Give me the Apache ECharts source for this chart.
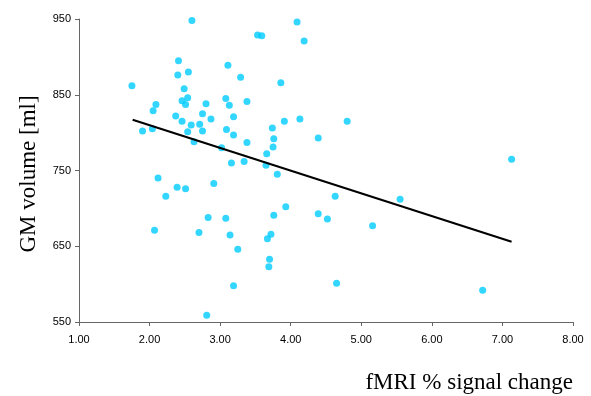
<!DOCTYPE html>
<html>
<head>
<meta charset="utf-8">
<script src="https://cdn.jsdelivr.net/npm/echarts@6/dist/echarts.min.js"></script>
<style>
  html, body { margin: 0; padding: 0; background: #fff; }
  #chart { width: 591px; height: 396px; }
</style>
</head>
<body>
<div id="chart"></div>
<script>
// fMRI % signal change for each subject
const signalChange = [
  1.75, 2.60, 3.53, 3.59, 2.41, 2.40, 2.55, 2.49, 3.11, 3.29,
  2.46, 2.54, 2.51, 2.80, 3.08, 3.13, 3.38, 2.09, 2.05, 2.37,
  2.46, 2.75, 2.87, 3.19, 1.90, 2.04, 2.59, 2.71, 2.54, 2.75,
  3.09, 3.19, 2.63, 3.38, 3.02, 3.16, 3.34, 4.09, 4.19, 3.86,
  3.91, 4.13, 4.80, 3.74, 3.76, 4.39, 3.75, 3.66, 3.65, 2.12,
  2.23, 2.39, 2.51, 2.91, 2.83, 3.08, 2.07, 2.70, 3.14, 3.25,
  3.19, 2.81, 3.81, 3.93, 3.76, 3.72, 3.67, 3.70, 3.69, 4.39,
  4.52, 4.63, 5.16, 4.65, 5.55, 7.13, 6.72
];
// GM volume [ml] for each subject
const gmVolume = [
  862, 948, 929, 928, 895, 876, 880, 858, 889, 873,
  842, 846, 837, 838, 845, 836, 841, 837, 829, 822,
  815, 825, 818, 821, 802, 805, 810, 811, 801, 802,
  804, 797, 788, 787, 780, 760, 762, 946, 921, 866,
  815, 818, 815, 806, 792, 793, 781, 772, 757, 740,
  716, 728, 726, 733, 688, 687, 671, 668, 665, 646,
  598, 559, 745, 702, 691, 666, 660, 633, 623, 693,
  686, 716, 677, 601, 712, 765, 592
];
// linear trend line end points
const trendX = [1.76, 7.13];
const trendY = [817, 656];

const xTicks = { min: 1, max: 8, step: 1 };
const yTicks = { min: 550, max: 950, step: 100 };

const chart = echarts.init(document.getElementById('chart'));

const tickFont = { color: '#000', fontFamily: 'Liberation Sans, Arial, sans-serif', fontSize: 11 };
const axisGrey = '#666666';

chart.setOption({
  animation: false,
  grid: { left: 79, right: 18, top: 19, bottom: 74 },
  xAxis: {
    type: 'value',
    min: xTicks.min,
    max: xTicks.max,
    interval: xTicks.step,
    axisLine: { show: true, lineStyle: { color: axisGrey, width: 1 } },
    axisTick: { show: true, length: 4, lineStyle: { color: axisGrey } },
    splitLine: { show: false },
    axisLabel: { ...tickFont, margin: 12, formatter: v => v.toFixed(2) }
  },
  yAxis: {
    type: 'value',
    min: yTicks.min,
    max: yTicks.max,
    interval: yTicks.step,
    axisLine: { show: true, lineStyle: { color: axisGrey, width: 1 } },
    axisTick: { show: true, length: 4, lineStyle: { color: axisGrey } },
    splitLine: { show: false },
    axisLabel: { ...tickFont, margin: 8 }
  },
  graphic: [
    {
      type: 'text',
      x: 29, y: 174,
      rotation: Math.PI / 2,
      style: {
        text: 'GM volume [ml]',
        font: '23px "Liberation Serif", "Times New Roman", serif',
        fill: '#000',
        align: 'center',
        verticalAlign: 'middle'
      }
    },
    {
      type: 'text',
      x: 573, y: 383,
      style: {
        text: 'fMRI % signal change',
        font: '23px "Liberation Serif", "Times New Roman", serif',
        fill: '#000',
        align: 'right',
        verticalAlign: 'middle'
      }
    }
  ],
  series: [
    {
      type: 'scatter',
      symbol: 'circle',
      symbolSize: 7,
      itemStyle: { color: '#00ccff' },
      data: signalChange.map((x, i) => [x, gmVolume[i]]),
      z: 2
    },
    {
      type: 'line',
      showSymbol: false,
      lineStyle: { color: '#000', width: 2 },
      data: trendX.map((x, i) => [x, trendY[i]]),
      z: 3
    }
  ]
});
</script>
</body>
</html>
